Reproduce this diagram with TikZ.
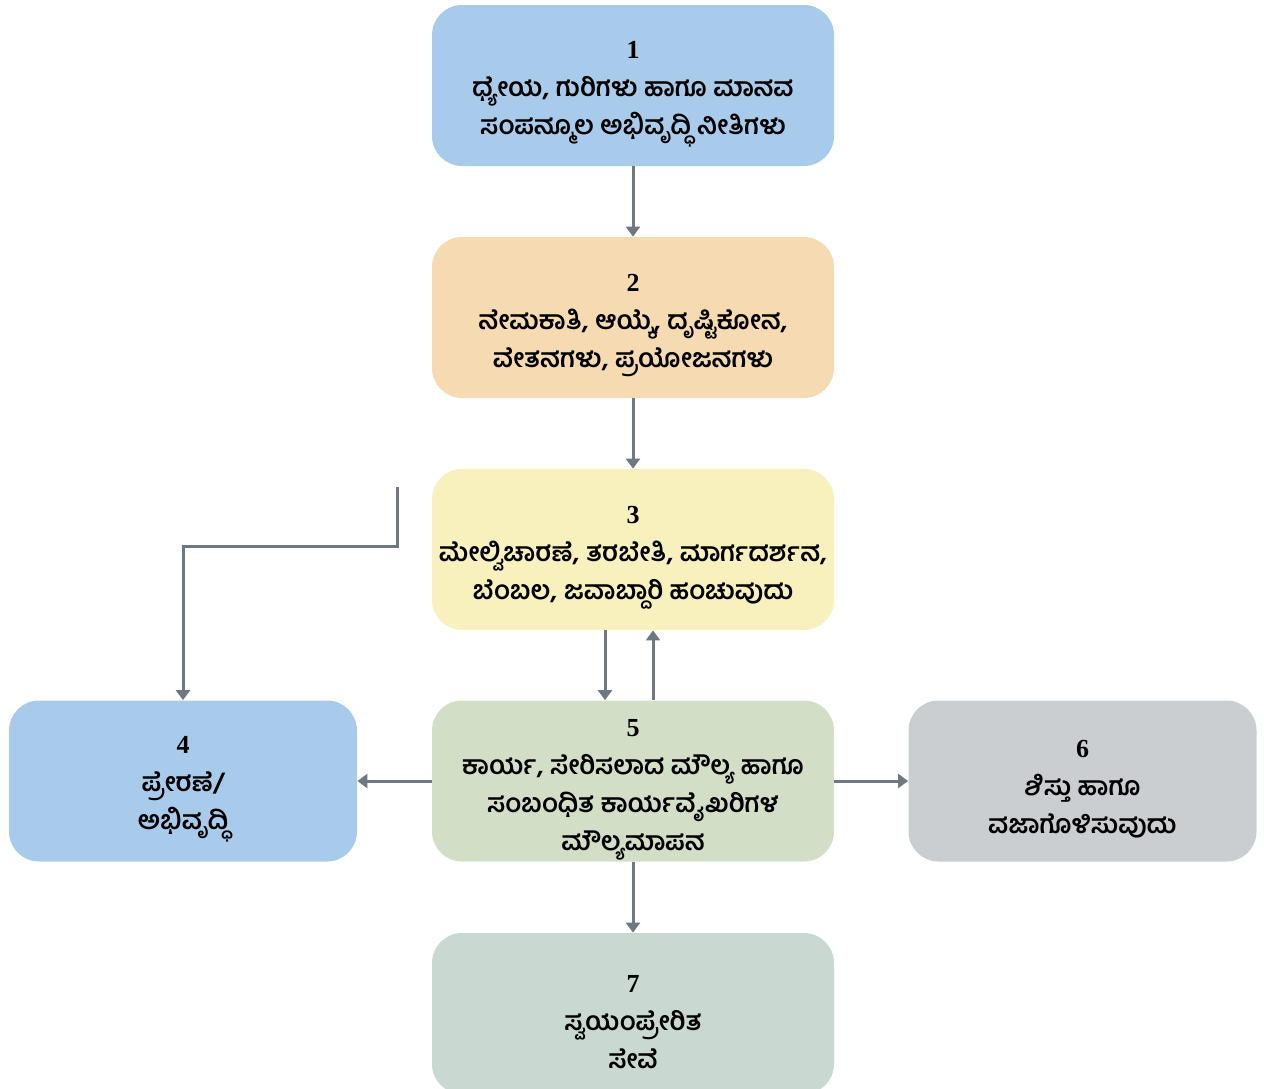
\documentclass[tikz,border=0pt]{standalone}
\usepackage{fontspec}
\newfontfamily\kn[Script=Kannada]{Hind Mysuru}
\newfontfamily\numfont{Liberation Serif}
\usetikzlibrary{positioning,arrows.meta}
\definecolor{boxblue}{RGB}{169,203,235}
\definecolor{boxpeach}{RGB}{246,218,178}
\definecolor{boxyellow}{RGB}{248,241,189}
\definecolor{boxsage}{RGB}{211,222,198}
\definecolor{boxgrey}{RGB}{203,206,209}
\definecolor{boxmint}{RGB}{201,217,209}
\definecolor{arrowgrey}{RGB}{109,120,130}
\newcommand{\stagenum}[1]{{\numfont\bfseries\rule{0pt}{17pt}#1}}

\begin{document}
\begin{tikzpicture}[x=0.5pt, y=-0.5pt,
    stagebox/.style={rounded corners=15pt, minimum width=201pt, minimum height=80.5pt,
        align=center, inner sep=0pt, font=\kn\bfseries\fontsize{13}{19}\selectfont},
    sidebox/.style={stagebox, minimum width=174pt},
    flow/.style={draw=arrowgrey, line width=1.5pt, -{Triangle[width=7pt,length=5pt]}}]
    \useasboundingbox (0,0) rectangle (1264,1088);

    % Stages down the middle
    \node[stagebox, fill=boxblue] (n1) at (633,85.5)
        {\stagenum{1}\\ಧ್ಯೇಯ, ಗುರಿಗಳು ಹಾಗೂ ಮಾನವ\\ಸಂಪನ್ಮೂಲ ಅಭಿವೃದ್ಧಿ ನೀತಿಗಳು};
    \node[stagebox, fill=boxpeach] (n2) at (633,317.5)
        {\stagenum{2}\\ನೇಮಕಾತಿ, ಆಯ್ಕೆ, ದೃಷ್ಟಿಕೋನ,\\ವೇತನಗಳು, ಪ್ರಯೋಜನಗಳು};
    \node[stagebox, fill=boxyellow] (n3) at (633,549.5)
        {\stagenum{3}\\ಮೇಲ್ವಿಚಾರಣೆ, ತರಬೇತಿ, ಮಾರ್ಗದರ್ಶನ,\\ಬೆಂಬಲ, ಜವಾಬ್ದಾರಿ ಹಂಚುವುದು};
    \node[stagebox, fill=boxsage] (n5) at (633,781)
        {\stagenum{5}\\ಕಾರ್ಯ, ಸೇರಿಸಲಾದ ಮೌಲ್ಯ ಹಾಗೂ\\ಸಂಬಂಧಿತ ಕಾರ್ಯವೈಖರಿಗಳ\\ಮೌಲ್ಯಮಾಪನ};
    \node[stagebox, fill=boxmint] (n7) at (633,1013.5)
        {\stagenum{7}\\ಸ್ವಯಂಪ್ರೇರಿತ\\ಸೇವೆ};

    % Side outcomes
    \node[sidebox, fill=boxblue] (n4) at (183,781)
        {\stagenum{4}\\ಪ್ರೇರಣೆ/\\ಅಭಿವೃದ್ಧಿ};
    \node[sidebox, fill=boxgrey] (n6) at (1082.5,781)
        {\stagenum{6}\\ಶಿಸ್ತು ಹಾಗೂ\\ವಜಾಗೊಳಿಸುವುದು};

    % Connectors
    \draw[flow] (n1) -- (n2);
    \draw[flow] (n2) -- (n3);
    \draw[flow] ([xshift=-14pt]n3.south) -- ([xshift=-14pt]n5.north);
    \draw[flow] ([xshift=10pt]n5.north) -- ([xshift=10pt]n3.south);
    \draw[flow] (n5) -- (n4);
    \draw[flow] (n5) -- (n6);
    \draw[flow] (n5) -- (n7);

    % Feedback line to stage 4
    \coordinate (fb) at (397,487);
    \draw[flow] (fb) |- (183,546) -- (n4.north);
\end{tikzpicture}
\end{document}
